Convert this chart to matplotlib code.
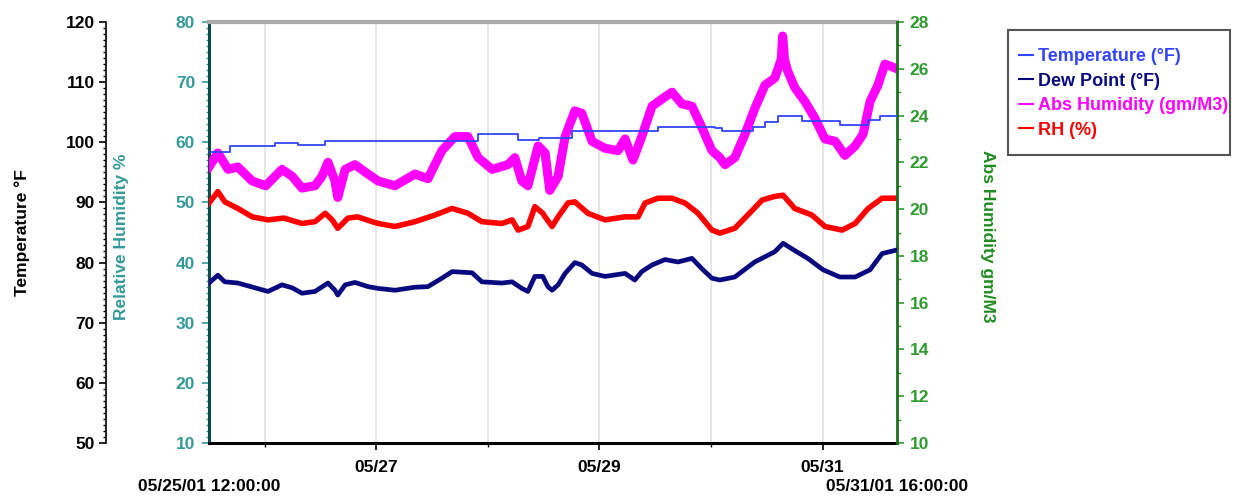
import numpy as np
import pandas as pd
import matplotlib
matplotlib.use("Agg")
import matplotlib.pyplot as plt
import matplotlib.dates as mdates
from matplotlib.patches import Rectangle

plt.rcParams['font.family'] = ['Liberation Sans', 'DejaVu Sans']
plt.rcParams['font.weight'] = 'bold'
plt.rcParams['axes.labelweight'] = 'bold'

START = pd.Timestamp("2001-05-25 12:00:00")
END = pd.Timestamp("2001-05-31 16:00:00")

# hours since start
temp_hours = [0, 4.5, 14.2, 19.1, 25.0, 57.9, 66.5, 71.0, 78.0, 96.6, 108.8, 110.3,
              117.0, 119.6, 122.4, 127.6, 135.7, 141.8, 144.3, 148.0]
temp_vals = [98.4, 99.4, 99.9, 99.5, 100.2, 101.3, 100.3, 100.7, 101.9, 102.5, 102.3, 101.8,
             102.6, 103.4, 104.3, 103.5, 102.9, 103.7, 104.4, 104.4]

dew_hours = [0, 1.9, 3.4, 6.2, 9.9, 12.7, 15.7, 17.9, 20.0, 22.8, 25.6, 27.1, 27.7, 29.3,
             31.4, 34.2, 36.4, 40.0, 44.3, 47.1, 50.1, 52.3, 56.6, 58.7, 63.0, 65.2, 67.3,
             68.6, 70.1, 71.8, 72.9, 73.8, 75.1, 76.6, 78.7, 80.2, 82.4, 85.2, 89.5, 91.6,
             93.1, 95.3, 98.1, 100.9, 103.9, 106.0, 108.2, 109.9, 113.1, 117.4, 121.7, 123.5,
             126.0, 128.8, 132.1, 135.7, 139.0, 142.2, 144.8, 148.0]
dew_vals = [76.6, 77.9, 76.8, 76.6, 75.8, 75.2, 76.3, 75.8, 74.9, 75.2, 76.6, 75.4, 74.6, 76.3,
            76.7, 76.0, 75.7, 75.4, 75.9, 76.0, 77.4, 78.5, 78.3, 76.8, 76.6, 76.8, 75.7,
            75.2, 77.7, 77.7, 76.0, 75.4, 76.3, 78.2, 80.0, 79.6, 78.2, 77.7, 78.2, 77.1,
            78.5, 79.6, 80.5, 80.1, 80.7, 79.0, 77.4, 77.1, 77.6, 80.1, 81.8, 83.2,
            82.0, 80.7, 78.8, 77.6, 77.6, 78.8, 81.5, 82.1]

ah_hours = [0, 1.9, 4.1, 6.2, 9.3, 12.2, 15.7, 17.9, 20.0, 22.8, 24.3, 25.6, 27.1, 27.7,
            29.3, 31.4, 34.2, 36.4, 40.0, 44.3, 47.1, 50.1, 52.9, 55.7, 57.9, 60.9, 64.3,
            65.8, 67.3, 68.6, 70.8, 72.3, 73.3, 75.1, 76.6, 78.7, 80.2, 82.4, 85.2, 88.0,
            89.5, 91.2, 93.1, 95.3, 98.1, 99.6, 101.7, 103.9, 106.0, 108.2, 109.9, 111.0,
            113.1, 115.3, 117.4, 119.6, 121.7, 123.1, 123.4, 123.8, 124.5, 126.0, 128.2,
            130.3, 132.5, 134.7, 136.8, 139.0, 140.7, 142.2, 143.9, 145.4, 148.0]
ah_vals = [21.8, 22.4, 21.7, 21.8, 21.2, 21.0, 21.7, 21.4, 20.9, 21.0, 21.4, 22.0, 21.2, 20.5,
           21.7, 21.9, 21.5, 21.2, 21.0, 21.5, 21.3, 22.5, 23.1, 23.1, 22.2, 21.7, 21.9,
           22.2, 21.2, 21.0, 22.7, 22.4, 20.8, 21.4, 23.1, 24.2, 24.1, 22.9, 22.6, 22.5,
           23.0, 22.1, 23.1, 24.4, 24.8, 25.0, 24.5, 24.4, 23.5, 22.5, 22.2, 21.9,
           22.2, 23.2, 24.3, 25.3, 25.6, 26.4, 27.4, 26.4, 25.9, 25.2, 24.6,
           23.9, 23.0, 22.9, 22.3, 22.7, 23.2, 24.6, 25.3, 26.2, 26.0]

rh_hours = [0, 1.9, 3.4, 6.2, 9.3, 12.7, 16.1, 20.0, 22.8, 25.0, 26.5, 27.7, 29.9, 32.0,
            35.1, 36.4, 40.0, 44.3, 48.6, 52.3, 55.7, 58.7, 63.0, 65.2, 66.5, 68.6, 70.1,
            71.8, 72.3, 73.8, 75.1, 77.2, 78.7, 81.5, 85.2, 89.5, 92.3, 93.8, 96.6, 99.6,
            102.4, 105.2, 108.2, 109.9, 113.1, 115.9, 119.0, 121.7, 123.5, 126.0, 129.7,
            132.5, 136.2, 139.0, 141.8, 144.8, 148.0]
rh_vals = [49.9, 51.8, 50.1, 49.0, 47.6, 47.1, 47.4, 46.5, 46.8, 48.2, 47.1, 45.7, 47.4, 47.6,
           46.8, 46.5, 46.0, 46.8, 47.9, 49.0, 48.2, 46.8, 46.5, 47.1, 45.4, 46.0, 49.3,
           48.2, 47.6, 46.0, 47.6, 49.9, 50.1, 48.2, 47.1, 47.6, 47.6, 49.9, 50.7, 50.7,
           49.9, 48.2, 45.4, 44.9, 45.7, 47.9, 50.4, 51.0, 51.2, 49.0, 47.9,
           46.0, 45.4, 46.5, 49.0, 50.7, 50.7]


def to_time(hours):
    return START + pd.to_timedelta(hours, unit="h")


fig = plt.figure(figsize=(12.38, 4.96), dpi=100)
ax = fig.add_axes([209 / 1238, 53 / 496, 688 / 1238, 421 / 496])
ax_t = ax.twinx()
ax_a = ax.twinx()

teal = "#339999"
green = "#2E9B2E"

# RH on the inner left axis
ax.plot(to_time(rh_hours), rh_vals, color="#FF0000", lw=4.0, zorder=3)
ax.set_ylim(10, 80)

# temperature axis, pushed out to the left
ax_t.yaxis.set_label_position("left")
ax_t.yaxis.tick_left()
ax_t.spines["left"].set_position(("axes", -0.1497))
ax_t.spines["right"].set_visible(False)
ax_t.spines["top"].set_visible(False)
ax_t.spines["bottom"].set_visible(False)
ax_t.plot(to_time(dew_hours), dew_vals, color="#0A0A80", lw=3.4, zorder=4)
ax_t.step(to_time(temp_hours), temp_vals, where="post", color="#3344FF", lw=1.3, zorder=5)
ax_t.set_ylim(50, 120)

# absolute humidity on the right
ax_a.plot(to_time(ah_hours), ah_vals, color="#FF00FF", lw=6.5, zorder=2)
ax_a.set_ylim(10, 28)
ax_a.spines["left"].set_visible(False)
ax_a.spines["top"].set_visible(False)
ax_a.spines["bottom"].set_visible(False)

ax_t.set_zorder(3)
ax_a.set_zorder(2)
ax.set_zorder(1)

ax.set_xlim(START, END)
ax.xaxis.set_major_locator(mdates.DayLocator(bymonthday=[27, 29, 31]))
ax.xaxis.set_minor_locator(mdates.DayLocator())
ax.xaxis.set_major_formatter(mdates.DateFormatter("%m/%d"))
ax.grid(True, axis="x", which="both", color="#E2E2E2", lw=1.2)
ax.tick_params(axis="x", which="major", length=5, width=1.2, pad=7, labelsize=12.5)
ax.tick_params(axis="x", which="minor", length=3, width=1)

ax.yaxis.set_major_locator(plt.MultipleLocator(10))
ax.yaxis.set_minor_locator(plt.MultipleLocator(1))
ax.tick_params(axis="y", which="major", colors=teal, length=5, width=1.2, pad=5, labelsize=12.5)
ax.tick_params(axis="y", which="minor", colors=teal, length=2.5, width=1)

ax_t.yaxis.set_major_locator(plt.MultipleLocator(10))
ax_t.yaxis.set_minor_locator(plt.MultipleLocator(1))
ax_t.tick_params(axis="y", which="major", colors="black", length=5, width=1.2, pad=3, labelsize=12.5)
ax_t.tick_params(axis="y", which="minor", colors="black", length=2.5, width=1)

ax_a.yaxis.set_major_locator(plt.MultipleLocator(2))
ax_a.yaxis.set_minor_locator(plt.MultipleLocator(1))
ax_a.tick_params(axis="y", which="major", colors=green, length=5, width=1.2, pad=4, labelsize=12.5)
ax_a.tick_params(axis="y", which="minor", colors=green, length=3, width=1)

ax.spines["left"].set_color("#0E4A4A")
ax.spines["left"].set_linewidth(2.2)
ax.spines["bottom"].set_linewidth(2.2)
ax.spines["top"].set_color("#AAAAAA")
ax.spines["top"].set_linewidth(3)
ax.spines["right"].set_visible(False)
ax_a.spines["right"].set_color("#1E6E1E")
ax_a.spines["right"].set_linewidth(2)
ax_t.spines["left"].set_linewidth(1.2)

ax_t.set_ylabel("Temperature °F", fontsize=12.5, color="black", va="center")
ax_t.yaxis.set_label_coords(-0.272, 0.5)
ax.set_ylabel("Relative Humidity %", fontsize=12.5, color=teal, va="center")
ax.yaxis.set_label_coords(-0.1265, 0.49)
ax_a.set_ylabel("Abs Humidity gm/M3", fontsize=12.5, color="#1E8C1E", rotation=270, va="center")
ax_a.yaxis.set_label_coords(1.132, 0.49)

ax.text(0, -0.1045, "05/25/01 12:00:00", transform=ax.transAxes, ha="center", va="center",
        fontsize=12.5)
ax.text(1, -0.1045, "05/31/01 16:00:00", transform=ax.transAxes, ha="center", va="center",
        fontsize=12.5)

# legend in its own box
fig.patches.append(Rectangle((1008 / 1238, 341 / 496), 222 / 1238, 125 / 496,
                             transform=fig.transFigure, fill=False,
                             edgecolor="#555555", lw=1.5))
handles = [
    plt.Line2D([], [], color="#3344FF", lw=1.5, label="Temperature (°F)"),
    plt.Line2D([], [], color="#0A0A80", lw=1.5, label="Dew Point (°F)"),
    plt.Line2D([], [], color="#FF00FF", lw=1.5, label="Abs Humidity (gm/M3)"),
    plt.Line2D([], [], color="#FF0000", lw=1.5, label="RH (%)"),
]
fig.legend(handles=handles, loc="upper left", bbox_to_anchor=(1019 / 1238, 448 / 496),
           frameon=False, fontsize=13, handlelength=0.75, handletextpad=0.3,
           labelspacing=0.42, labelcolor="linecolor", borderpad=0, borderaxespad=0)

fig.savefig("out.png", dpi=100)
